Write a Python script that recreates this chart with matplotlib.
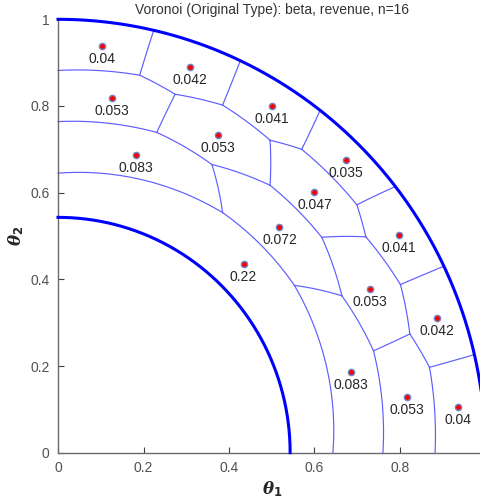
import numpy as np
import matplotlib.pyplot as plt

# cell sites and their labels
pt_x = [0.104, 0.308, 0.500, 0.673, 0.797, 0.887, 0.936,
        0.126, 0.375, 0.600, 0.730, 0.816,
        0.183, 0.518, 0.685,
        0.434]
pt_y = [0.939, 0.889, 0.799, 0.675, 0.502, 0.310, 0.106,
        0.818, 0.732, 0.602, 0.378, 0.129,
        0.688, 0.520, 0.186,
        0.435]
pt_lbl = ["0.04", "0.042", "0.041", "0.035", "0.041", "0.042", "0.04",
          "0.053", "0.053", "0.047", "0.053", "0.053",
          "0.083", "0.072", "0.083",
          "0.22"]

# diagram vertices
verts = {
    "L1": (0.0, 0.645), "B1": (0.643, 0.0),
    "L2": (0.0, 0.764), "B2": (0.760, 0.0),
    "L3": (0.0, 0.882), "B3": (0.882, 0.0),
    "a1": (0.385, 0.554), "a2": (0.553, 0.386),
    "b1": (0.360, 0.665), "b2": (0.664, 0.362),
    "c1": (0.496, 0.617), "c2": (0.617, 0.497),
    "d1": (0.231, 0.739), "d2": (0.738, 0.235),
    "e1": (0.274, 0.827), "e2": (0.823, 0.274),
    "f1": (0.385, 0.802), "f2": (0.801, 0.388),
    "g1": (0.496, 0.721), "g2": (0.720, 0.498),
    "h1": (0.570, 0.700), "h2": (0.699, 0.572),
    "k1": (0.191, 0.871), "k2": (0.869, 0.197),
    "o1": (0.224, 0.975), "o6": (0.973, 0.226),
    "o2": (0.426, 0.903), "o5": (0.902, 0.430),
    "o3": (0.613, 0.790), "o4": (0.789, 0.614),
}
edges = [("L1", "a1"), ("a1", "a2"), ("a2", "B1"), ("a1", "b1"), ("a2", "b2"),
         ("L2", "d1"), ("d1", "b1"), ("B2", "d2"), ("d2", "b2"),
         ("b1", "c1"), ("c1", "c2"), ("c2", "b2"),
         ("d1", "e1"), ("c1", "g1"), ("c2", "g2"), ("d2", "e2"),
         ("L3", "k1"), ("k1", "e1"), ("e1", "f1"), ("f1", "g1"), ("g1", "h1"),
         ("h1", "h2"), ("h2", "g2"), ("g2", "f2"), ("f2", "e2"), ("e2", "k2"),
         ("k2", "B3"),
         ("k1", "o1"), ("f1", "o2"), ("h1", "o3"), ("h2", "o4"), ("f2", "o5"),
         ("k2", "o6")]
r_inner = 0.543
r_outer = 1.0
ticks = [0, 0.2, 0.4, 0.6, 0.8, 1]
tick_lbl = ["0", "0.2", "0.4", "0.6", "0.8", "1"]

plt.rcParams['font.family'] = ['Liberation Sans', 'DejaVu Sans']
plt.rcParams['mathtext.fontset'] = 'custom'
plt.rcParams['mathtext.it'] = 'DejaVu Serif:italic:bold'
plt.rcParams['mathtext.rm'] = 'DejaVu Sans:bold'
fig = plt.figure(figsize=(4.81, 5.04), dpi=100)
ax = fig.add_axes([58/481, (504-452.7)/504, 427.5/481, 433.4/504])

thin = '#5e5eff'
for a, b in edges:
    x0, y0 = verts[a]
    x1, y1 = verts[b]
    r = np.linspace(np.hypot(x0, y0), np.hypot(x1, y1), 60)
    t = np.linspace(np.arctan2(y0, x0), np.arctan2(y1, x1), 60)
    ax.plot(r*np.cos(t), r*np.sin(t), color=thin, lw=0.85, clip_on=False)

t = np.linspace(0, np.pi/2, 300)
for rr in [r_inner, r_outer]:
    ax.plot(rr*np.cos(t), rr*np.sin(t), color='#0000ff', lw=2.2, clip_on=False, zorder=3)

ax.plot(pt_x, pt_y, 'o', ms=4.5, mfc='red', mec='#6f86c6', mew=1.0, ls='none', zorder=4)
for x, y, s in zip(pt_x, pt_y, pt_lbl):
    ax.annotate(s, (x, y), xytext=(0, -13), textcoords='offset pixels',
                ha='center', va='center', fontsize=10, color='#262626')

ax.set_xlim(0, 1)
ax.set_ylim(0, 1)
# the x tick at 1 falls just past the right edge of the picture
ax.set_xticks(ticks[:-1])
ax.set_xticklabels(tick_lbl[:-1])
ax.set_yticks(ticks)
ax.set_yticklabels(tick_lbl)
ax.tick_params(direction='in', length=4, width=0.8, colors='#404040',
               labelsize=10, labelcolor='#505050', pad=6)
for s in ['top', 'right']:
    ax.spines[s].set_visible(False)
for s in ['left', 'bottom']:
    ax.spines[s].set_color('#6a6a6a')
    ax.spines[s].set_linewidth(1.0)

ax.set_title("Voronoi (Original Type): beta, revenue, n=16", fontsize=10,
             color='#333333', pad=4)
ax.set_xlabel(r"$\theta_1$", fontsize=12, color='#262626', labelpad=3)
ax.set_ylabel(r"$\theta_2$", fontsize=12, color='#262626', labelpad=3)

fig.savefig("out.png", dpi=100)
